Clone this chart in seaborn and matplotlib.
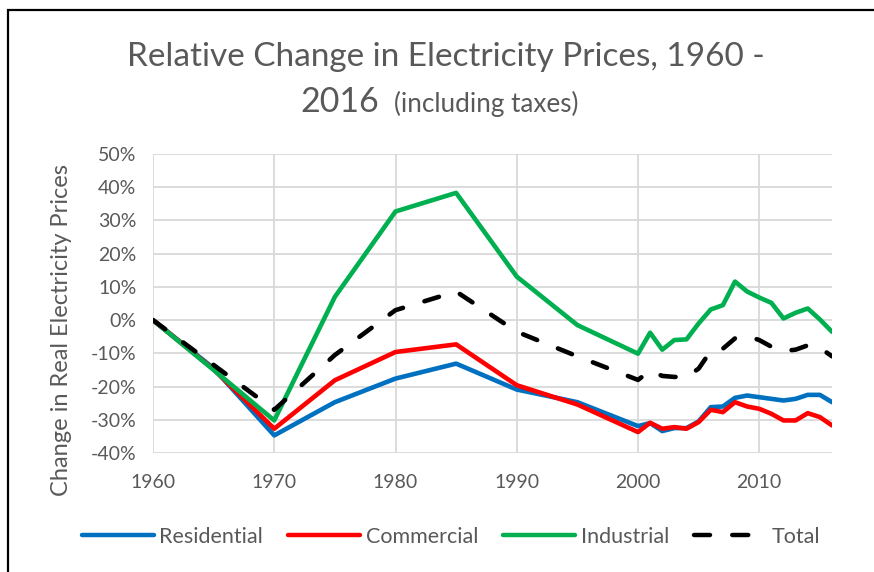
import matplotlib
matplotlib.use("Agg")
import matplotlib.pyplot as plt
from matplotlib.lines import Line2D
from matplotlib.patches import Rectangle
import seaborn as sns
import pandas as pd

years = [1960, 1965, 1970, 1975, 1980, 1985, 1990, 1995, 2000, 2001, 2002, 2003,
         2004, 2005, 2006, 2007, 2008, 2009, 2010, 2011, 2012, 2013, 2014, 2015, 2016]
residential = [0, -14.5, -34.7, -24.7, -17.6, -13.1, -20.9, -24.7, -31.9, -31.0, -33.4, -32.5,
               -32.5, -30.5, -26.2, -26.0, -23.4, -22.7, -23.2, -23.7, -24.2, -23.7, -22.5, -22.5, -24.7]
commercial = [0, -14.8, -32.7, -18.1, -9.6, -7.3, -19.6, -25.4, -33.7, -30.9, -32.7, -32.2,
              -32.7, -30.7, -27.0, -27.7, -24.7, -26.0, -26.7, -28.2, -30.2, -30.2, -28.0, -29.2, -31.7]
industrial = [0, -15.0, -30.2, 7.0, 32.7, 38.3, 13.1, -1.5, -10.1, -3.8, -8.9, -6.0,
              -5.8, -1.0, 3.2, 4.5, 11.6, 8.6, 6.8, 5.2, 0.5, 2.2, 3.5, 0.2, -3.5]
total = [0, -13.5, -27.0, -10.5, 3.0, 8.6, -3.5, -10.9, -18.0, -15.2, -16.8, -17.1,
         -17.1, -14.6, -9.3, -8.6, -5.5, -4.8, -6.0, -8.0, -9.3, -8.9, -7.6, -8.3, -10.9]

series_names = ["Residential", "Commercial", "Industrial", "Total"]
series_values = [residential, commercial, industrial, total]
colors = ["#0070C0", "#FF0000", "#00B050", "#000000"]
x_ticks = [1960, 1970, 1980, 1990, 2000, 2010]
y_ticks = [-40, -30, -20, -10, 0, 10, 20, 30, 40, 50]

title_line1 = "Relative Change in Electricity Prices, 1960 -"
title_year = "2016"
title_note = "(including taxes)"
y_label = "Change in Real Electricity Prices"

sns.set_style("white")
FONT = ["Lato", "DejaVu Sans"]
plt.rcParams["font.family"] = FONT
TXT = "#595959"
GRID = "#D9D9D9"

W, H = 874, 572
fig = plt.figure(figsize=(W / 100, H / 100), dpi=100)
ax = fig.add_axes([153 / W, 1 - 453 / H, (832 - 153) / W, (453 - 154) / H])

lw = 3.3
for name, vals, col in zip(series_names, series_values, colors):
    df = pd.DataFrame({"year": years, "value": vals})
    sns.lineplot(data=df, x="year", y="value", ax=ax, color=col, linewidth=lw,
                 legend=False, zorder=3)
    line = ax.lines[-1]
    line.set_solid_capstyle("round")
    line.set_solid_joinstyle("round")
    if name == "Total":
        line.set_dashes((3.3, 4.9))
        line.set_dash_capstyle("round")

ax.set_xlim(1960, 2016)
ax.set_ylim(-40, 50)
ax.set_xticks(x_ticks)
ax.set_yticks(y_ticks)
ax.set_xticklabels([str(t) for t in x_ticks])
ax.set_yticklabels([f"{t}%" for t in y_ticks])
ax.tick_params(axis="both", length=0, labelsize=14, labelcolor=TXT)
ax.tick_params(axis="x", pad=15)
ax.tick_params(axis="y", pad=12)
ax.grid(True, color=GRID, linewidth=1.3, zorder=0)
ax.set_axisbelow(True)
for s in ax.spines.values():
    s.set_visible(False)
ax.set_xlabel("")
ax.set_ylabel(y_label, fontsize=17, color=TXT)
ax.yaxis.set_label_coords((72 - 153) / 679, (453 - 330) / 299)

# title
fig.text(446 / W, 1 - 66 / H, title_line1, ha="center", va="baseline", fontsize=24, color=TXT)
fig.text(300 / W, 1 - 112 / H, title_year, ha="left", va="baseline", fontsize=24.5, color=TXT)
fig.text(394 / W, 1 - 112 / H, title_note, ha="left", va="baseline", fontsize=18.8, color=TXT)

# legend
handles = []
for name, col in zip(series_names, colors):
    h = Line2D([0], [0], color=col, linewidth=3.2, solid_capstyle="round",
               dash_capstyle="round")
    if name == "Total":
        h.set_dashes((3.6, 5.0))
    handles.append(h)
leg = fig.legend(handles, series_names, loc="center", bbox_to_anchor=(451 / W, 1 - 537 / H),
                 ncol=4, frameon=False, fontsize=15.5, handlelength=3.35,
                 handletextpad=0.27, columnspacing=1.15)
for t in leg.get_texts():
    t.set_color(TXT)

# figure border (left and top)
fig.patches.append(Rectangle((7.5 / W, -0.1), 1.2, (1 - 10 / H) + 0.1, transform=fig.transFigure,
                             fill=False, edgecolor="black", linewidth=1.6, zorder=10))

fig.savefig("out.png", dpi=100)
